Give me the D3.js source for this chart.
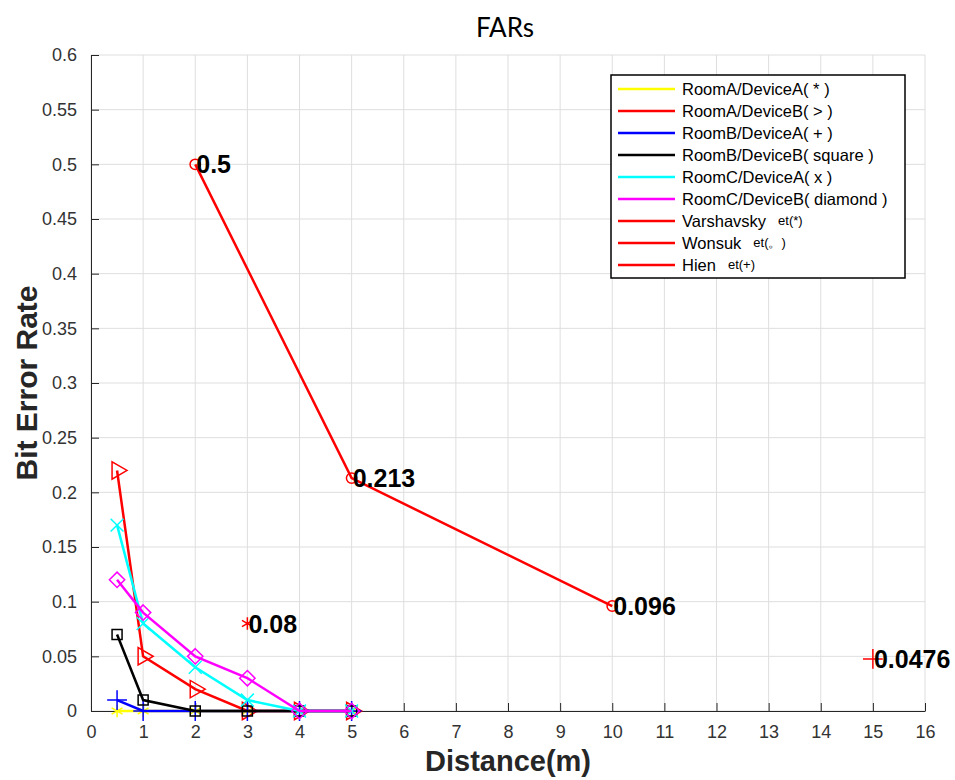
<!DOCTYPE html>
<html>
<head>
<meta charset="utf-8">
<script src="https://cdn.jsdelivr.net/npm/d3@7"></script>
<style>
  body { margin: 0; background: #fff; }
  text { font-family: "Liberation Sans", Arial, sans-serif; }
</style>
</head>
<body>
<div id="chart"></div>
<script>
var width = 955,
    height = 780;

// data
var distances = [0.5, 1, 2, 3, 4, 5];
var roomADevA = [0, 0, 0, 0, 0, 0];
var roomADevB = [0.22, 0.05, 0.02, 0, 0, 0];
var roomBDevA = [0.01, 0, 0, 0, 0, 0];
var roomBDevB = [0.07, 0.01, 0, 0, 0, 0];
var roomCDevA = [0.17, 0.08, 0.04, 0.01, 0, 0];
var roomCDevB = [0.12, 0.09, 0.05, 0.03, 0, 0];
var varshavskyX = [3], varshavskyY = [0.08];
var wonsukX = [2, 5, 10], wonsukY = [0.5, 0.213, 0.096];
var hienX = [15], hienY = [0.0476];
var pointLabels = [[2, 0.5, "0.5"], [5, 0.213, "0.213"], [10, 0.096, "0.096"], [3, 0.08, "0.08"], [15, 0.0476, "0.0476"]];
var xTicks = d3.range(0, 17);
var yTicks = [0, 0.05, 0.1, 0.15, 0.2, 0.25, 0.3, 0.35, 0.4, 0.45, 0.5, 0.55, 0.6];

var series = [
  {name: "RoomA/DeviceA( * )", x: distances, y: roomADevA, color: "#ffff00", marker: "asterisk"},
  {name: "RoomA/DeviceB( > )", x: distances, y: roomADevB, color: "#ff0000", marker: "triangle"},
  {name: "RoomB/DeviceA( + )", x: distances, y: roomBDevA, color: "#0000ff", marker: "plus"},
  {name: "RoomB/DeviceB( square )", x: distances, y: roomBDevB, color: "#000000", marker: "square"},
  {name: "RoomC/DeviceA( x )", x: distances, y: roomCDevA, color: "#00ffff", marker: "x"},
  {name: "RoomC/DeviceB( diamond )", x: distances, y: roomCDevB, color: "#ff00ff", marker: "diamond"},
  {name: "Varshavsky", et: "et(*)", x: varshavskyX, y: varshavskyY, color: "#ff0000", marker: "asterisk"},
  {name: "Wonsuk", et: "et(。)", x: wonsukX, y: wonsukY, color: "#ff0000", marker: "circle"},
  {name: "Hien", et: "et(+)", x: hienX, y: hienY, color: "#ff0000", marker: "plus"}
];

var margin = {left: 91, right: 30, top: 55, bottom: 69};

var svg = d3.select("#chart").append("svg")
  .attr("width", width)
  .attr("height", height);

var x = d3.scaleLinear().domain([0, 16]).range([margin.left, width - margin.right]);
var y = d3.scaleLinear().domain([0, 0.6]).range([height - margin.bottom, margin.top]);

// grid
var grid = svg.append("g");
grid.selectAll(".vg").data(xTicks).enter().append("line")
  .attr("x1", d => x(d)).attr("x2", d => x(d))
  .attr("y1", y(0)).attr("y2", y(0.6))
  .attr("stroke", "#dedede").attr("stroke-width", 1);
grid.selectAll(".hg").data(yTicks).enter().append("line")
  .attr("x1", x(0)).attr("x2", x(16))
  .attr("y1", d => y(d)).attr("y2", d => y(d))
  .attr("stroke", "#dedede").attr("stroke-width", 1);

// axes (ticks pointing inward like matlab)
var xAxis = d3.axisBottom(x).tickValues(xTicks).tickFormat(d3.format("d")).tickSizeInner(-8).tickSizeOuter(0).tickPadding(14);
var yAxis = d3.axisLeft(y).tickValues(yTicks).tickFormat(d3.format("~g")).tickSizeInner(-8).tickSizeOuter(0).tickPadding(14);

var gx = svg.append("g").attr("transform", "translate(0," + y(0) + ")").call(xAxis);
var gy = svg.append("g").attr("transform", "translate(" + x(0) + ",0)").call(yAxis);
[gx, gy].forEach(function(g) {
  g.select(".domain").attr("stroke", "#262626").attr("stroke-width", 1);
  g.selectAll(".tick line").attr("stroke", "#262626");
  g.selectAll(".tick text").attr("fill", "#333").style("font-size", "18px")
    .style("font-family", "'Liberation Sans', Arial, sans-serif");
});

// markers
function markerPath(kind) {
  var s;
  if (kind == "asterisk") s = d3.symbol(d3.symbolAsterisk, 110);
  else if (kind == "plus") s = d3.symbol(d3.symbolPlus, 130);
  else if (kind == "x") s = d3.symbol(d3.symbolTimes, 110);
  else if (kind == "square") s = d3.symbol(d3.symbolSquare, 100);
  else if (kind == "diamond") s = d3.symbol(d3.symbolDiamond2, 150);
  else if (kind == "triangle") s = d3.symbol(d3.symbolTriangle, 130);
  else s = d3.symbol(d3.symbolCircle, 85);
  return s();
}

var line = d3.line().x(d => x(d[0])).y(d => y(d[1]));
var plot = svg.append("g");

series.forEach(function(s) {
  var pts = s.x.map((v, i) => [v, s.y[i]]);
  var g = plot.append("g");
  g.append("path")
    .attr("d", line(pts))
    .attr("fill", "none")
    .attr("stroke", s.color)
    .attr("stroke-width", 2.5);
  g.selectAll("path.mk").data(pts).enter().append("path")
    .attr("class", "mk")
    .attr("d", markerPath(s.marker))
    .attr("transform", function(d) {
      return "translate(" + x(d[0]) + "," + y(d[1]) + ")" + (s.marker == "triangle" ? " rotate(90)" : "");
    })
    .attr("fill", "none")
    .attr("stroke", s.color)
    .attr("stroke-width", 1.5);
});

// value labels
svg.append("g").selectAll("text").data(pointLabels).enter().append("text")
  .attr("x", d => x(d[0]) + 1)
  .attr("y", d => y(d[1]))
  .attr("dy", "0.36em")
  .attr("fill", "#000")
  .style("font-size", "25px")
  .style("font-weight", "bold")
  .text(d => d[2]);

// title and axis labels
svg.append("text")
  .attr("x", 505).attr("y", 37)
  .attr("text-anchor", "middle")
  .style("font-family", "Lato, 'Open Sans', sans-serif")
  .style("font-size", "26px")
  .attr("fill", "#000")
  .text("FARs");

svg.append("text")
  .attr("x", (x(0) + x(16)) / 2).attr("y", 771)
  .attr("text-anchor", "middle")
  .style("font-size", "29px").style("font-weight", "bold")
  .attr("fill", "#262626")
  .text("Distance(m)");

svg.append("text")
  .attr("transform", "translate(37," + ((y(0) + y(0.6)) / 2) + ") rotate(-90)")
  .attr("text-anchor", "middle")
  .style("font-size", "30px").style("font-weight", "bold")
  .attr("fill", "#262626")
  .text("Bit Error Rate");

// legend
var lg = svg.append("g");
lg.append("rect")
  .attr("x", 611).attr("y", 75).attr("width", 294).attr("height", 203)
  .attr("fill", "#fff").attr("stroke", "#000").attr("stroke-width", 1.5);

var rows = lg.selectAll("g.row").data(series).enter().append("g")
  .attr("transform", (d, i) => "translate(0," + (89 + i * 22) + ")");
rows.append("line")
  .attr("x1", 618).attr("x2", 675)
  .attr("stroke", d => d.color).attr("stroke-width", 2.5);
var lt = rows.append("text")
  .attr("x", 682).attr("dy", "0.35em")
  .attr("fill", "#000")
  .style("font-size", "16.5px");
lt.append("tspan").text(d => d.name);
lt.filter(d => d.et).append("tspan")
  .attr("dx", 12).attr("dy", -2)
  .style("font-size", "13px")
  .text(d => d.et);
</script>
</body>
</html>
